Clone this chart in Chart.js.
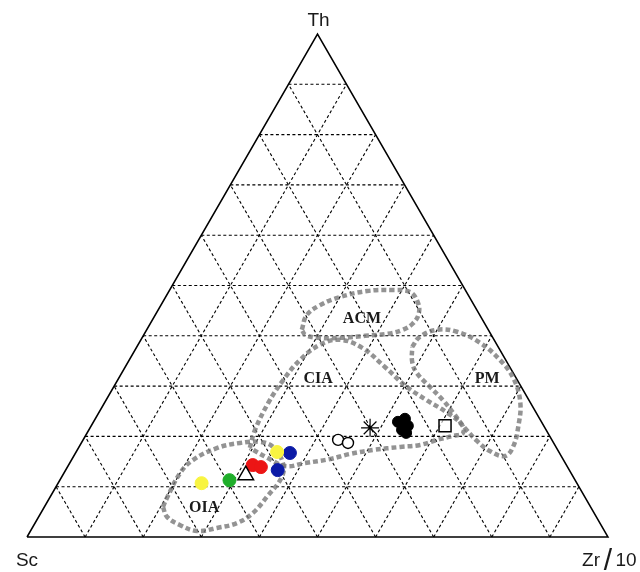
<!DOCTYPE html>
<html>
<head>
<meta charset="utf-8">
<script src="https://cdn.jsdelivr.net/npm/chart.js@4.4.1/dist/chart.umd.min.js"></script>
<style>
  html, body { margin: 0; padding: 0; background: #fff; }
  #wrap { width: 640px; height: 572px; }
</style>
</head>
<body>
<div id="wrap"><canvas id="chart" width="640" height="572"></canvas></div>
<script>
/* ── Data: ternary values in %, [Th, Zr/10]; Sc = 100 - Th - Zr/10 ── */
const gridTicks = [10, 20, 30, 40, 50, 60, 70, 80, 90];

const fieldOIA = [
  [6.0, 20.4], [7.8, 20.2], [12.7, 20.0], [15.3, 20.9], [17.7, 23.9], [18.7, 27.3],
  [18.9, 30.7], [17.9, 33.4], [14.7, 36.7], [11.9, 37.9], [8.0, 37.3], [4.8, 36.5],
  [2.8, 34.8], [1.8, 31.8], [1.2, 28.7], [2.4, 25.1], [4.0, 22.1],
];
const fieldCIA = [
  [17.7, 29.5], [21.3, 28.6], [26.6, 28.2], [31.2, 28.5], [35.2, 29.4], [38.2, 31.3],
  [39.2, 34.3], [37.6, 38.9], [33.8, 44.7], [30.0, 50.2], [27.2, 55.2], [24.7, 60.0],
  [22.3, 63.7], [20.7, 64.7], [20.1, 63.3], [19.3, 60.9], [18.3, 58.5], [17.9, 55.3],
  [17.3, 50.9], [16.5, 47.3], [15.5, 44.4], [14.7, 40.5], [14.1, 37.4], [15.7, 33.6],
];
const fieldACM = [
  [41.2, 26.7], [44.1, 26.1], [46.1, 27.4], [47.7, 30.0], [48.9, 34.1], [49.1, 38.4],
  [48.7, 41.6], [46.7, 43.9], [44.5, 45.2], [42.5, 45.2], [41.2, 44.1], [40.4, 41.9],
  [40.0, 38.2], [39.6, 34.1], [39.6, 30.3], [40.2, 27.8],
];
const fieldPM = [
  [37.8, 47.4], [39.8, 47.7], [41.2, 50.0], [40.8, 53.6], [38.6, 58.7], [35.2, 63.8],
  [31.6, 67.9], [26.8, 71.5], [21.9, 73.6], [17.9, 74.7], [16.1, 74.2], [17.1, 71.1],
  [19.1, 67.9], [21.7, 64.5], [24.7, 61.0], [27.2, 58.0], [29.8, 54.5], [32.6, 50.8],
  [34.8, 48.9],
];

const fieldLabels = ['OIA', 'CIA', 'ACM', 'PM'];
const fieldLabelTh = [5.8, 31.4, 43.3, 31.4];
const fieldLabelZr = [27.6, 34.4, 36.0, 63.5];

// samples
const yellowTh = [10.7, 16.9];
const yellowZr = [24.7, 34.6];
const greenTh = [11.3];
const greenZr = [29.2];
const redTh = [14.3, 13.9];
const redZr = [31.7, 33.3];
const blueTh = [16.7, 13.3];
const blueZr = [36.9, 36.5];
const triangleTh = [12.3];
const triangleZr = [31.5];
const openCircleTh = [19.3, 18.7];
const openCircleZr = [43.9, 45.9];
const asteriskTh = [21.7];
const asteriskZr = [48.2];
const blackTh = [22.9, 23.5, 22.1, 21.3, 20.7];
const blackZr = [52.4, 53.3, 54.5, 53.9, 54.9];
const squareTh = [22.1];
const squareZr = [60.9];

/* ── Ternary → cartesian ───────────────────────────────────── */
const H = Math.sqrt(3) / 2;
function tern(th, zr) {
  return { x: zr / 100 + th / 200, y: (th / 100) * H };
}
const pts = (ths, zrs) => ths.map((t, i) => tern(t, zrs[i]));
const loop = (field) => field.concat([field[0]]).map(([t, z]) => tern(t, z));

/* ── Datasets ──────────────────────────────────────────────── */
const datasets = [];

// triangle frame
datasets.push({
  data: [tern(0, 0), tern(0, 100), tern(100, 0), tern(0, 0)],
  showLine: true, borderColor: '#000', borderWidth: 1.5, pointRadius: 0, order: 9,
});

// dashed grid
const gridLine = (a, b) => ({
  data: [a, b], showLine: true, borderColor: '#000', borderWidth: 1.1,
  borderDash: [3, 2.5], pointRadius: 0, order: 10,
});
gridTicks.forEach(t => {
  datasets.push(gridLine(tern(t, 0), tern(t, 100 - t)));        // Th = t
  datasets.push(gridLine(tern(0, t), tern(100 - t, t)));        // Zr = t
  datasets.push(gridLine(tern(0, 100 - t), tern(100 - t, 0)));  // Sc = t
});

// field outlines
[fieldOIA, fieldCIA, fieldACM, fieldPM].forEach(f => {
  datasets.push({
    data: loop(f), showLine: true, tension: 0.4,
    borderColor: 'rgba(120,120,120,0.8)', borderWidth: 4.5,
    borderDash: [5, 3], pointRadius: 0, order: 5,
  });
});

// sample markers
const marker = (data, style, extra) => Object.assign({
  data, pointStyle: style, showLine: false, order: 0,
}, extra);

datasets.push(marker(pts(blackTh, blackZr), 'circle',
  { pointRadius: 5.5, backgroundColor: '#000', borderColor: '#000', borderWidth: 1 }));
datasets.push(marker(pts(squareTh, squareZr), 'rect',
  { pointRadius: 8.5, backgroundColor: 'rgba(255,255,255,0.6)', borderColor: '#000', borderWidth: 1.5 }));
datasets.push(marker(pts(asteriskTh, asteriskZr), 'star',
  { pointRadius: 9, backgroundColor: '#000', borderColor: '#000', borderWidth: 1.2 }));
datasets.push(marker(pts(openCircleTh, openCircleZr), 'circle',
  { pointRadius: 5.5, backgroundColor: '#fff', borderColor: '#000', borderWidth: 1.4 }));
datasets.push(marker(pts(triangleTh, triangleZr), 'triangle',
  { pointRadius: 9, backgroundColor: '#fff', borderColor: '#000', borderWidth: 1.5 }));
datasets.push(marker(pts(yellowTh, yellowZr), 'circle',
  { pointRadius: 6.5, backgroundColor: '#f8f440', borderColor: '#f8f440', borderWidth: 1 }));
datasets.push(marker(pts(greenTh, greenZr), 'circle',
  { pointRadius: 6.5, backgroundColor: '#1fae2a', borderColor: '#1fae2a', borderWidth: 1 }));
datasets.push(marker(pts(redTh, redZr), 'circle',
  { pointRadius: 6.5, backgroundColor: '#ec1515', borderColor: '#ec1515', borderWidth: 1 }));
datasets.push(marker(pts(blueTh, blueZr), 'circle',
  { pointRadius: 6.5, backgroundColor: '#0b1aa6', borderColor: '#0b1aa6', borderWidth: 1 }));

/* ── Labels plugin ─────────────────────────────────────────── */
const labelPlugin = {
  id: 'ternLabels',
  afterDatasetsDraw(chart) {
    const { ctx, scales: { x, y } } = chart;
    const px = (th, zr) => {
      const p = tern(th, zr);
      return [x.getPixelForValue(p.x), y.getPixelForValue(p.y)];
    };
    ctx.save();
    ctx.fillStyle = '#1a1a1a';
    ctx.textAlign = 'center';
    ctx.textBaseline = 'alphabetic';
    ctx.font = "19px 'Liberation Sans', Arial, sans-serif";

    const [tx, ty] = px(100, 0);
    ctx.fillText('Th', tx + 1, ty - 8);
    const [sx, sy] = px(0, 0);
    ctx.fillText('Sc', sx, sy + 29);
    const [zx, zy] = px(0, 100);
    ctx.fillText('Zr', zx - 17, zy + 29);
    ctx.fillText('10', zx + 18, zy + 29);
    ctx.font = "30px 'Liberation Sans', Arial, sans-serif";
    ctx.fillText('/', zx, zy + 33);

    ctx.font = "bold 16px 'Liberation Serif', 'Times New Roman', serif";
    ctx.fillStyle = '#1a1a1a';
    ctx.textBaseline = 'middle';
    fieldLabels.forEach((lab, i) => {
      const [lx, ly] = px(fieldLabelTh[i], fieldLabelZr[i]);
      ctx.fillText(lab, lx, ly);
    });
    ctx.restore();
  },
};

new Chart(document.getElementById('chart'), {
  type: 'scatter',
  data: { datasets },
  options: {
    responsive: false,
    animation: false,
    layout: { padding: { left: 27, right: 32, top: 34, bottom: 35 } },
    plugins: { legend: { display: false }, tooltip: { enabled: false } },
    scales: {
      x: { type: 'linear', min: 0, max: 1, display: false },
      y: { type: 'linear', min: 0, max: H, display: false },
    },
    elements: { line: { borderCapStyle: 'butt' } },
    datasets: { scatter: { clip: false } },
  },
  plugins: [labelPlugin],
});
</script>
</body>
</html>
